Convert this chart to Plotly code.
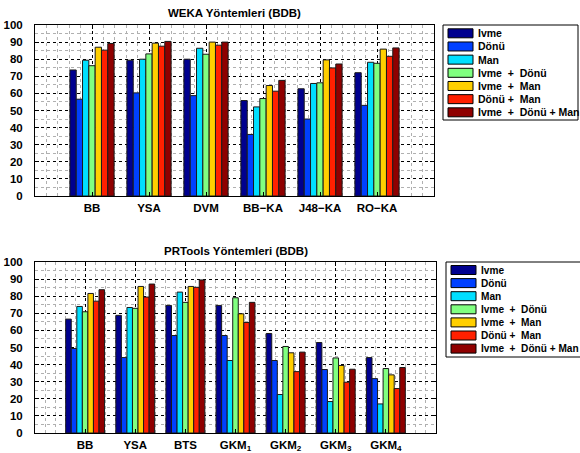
import plotly.graph_objects as go

W, H = 580, 453

series_names = ["Ivme", "Dönü", "Man", "Ivme  +  Dönü", "Ivme  +  Man", "Dönü +  Man", "Ivme  +  Dönü + Man"]
series_colors = ["#00008F", "#0040FF", "#00DFFF", "#80FF80", "#FFCF00", "#FF2000", "#8F0000"]

weka_categories = ["BB", "YSA", "DVM", "BB\u2212KA", "J48\u2212KA", "RO\u2212KA"]
weka_values = [
    [73.7, 79.4, 80.0, 55.8, 62.7, 72.1],   # Ivme
    [56.6, 60.3, 58.7, 36.0, 45.0, 53.0],   # Dönü
    [79.4, 80.0, 86.4, 52.1, 65.8, 78.2],   # Man
    [76.2, 83.1, 82.9, 57.0, 66.2, 77.6],   # Ivme + Dönü
    [87.0, 89.4, 90.0, 64.6, 79.6, 85.9],   # Ivme + Man
    [85.3, 87.6, 88.2, 61.3, 74.9, 81.7],   # Dönü + Man
    [89.2, 90.4, 90.0, 67.6, 77.2, 86.6],   # Ivme + Dönü + Man
]

pr_categories = ["BB", "YSA", "BTS", "GKM<sub>1</sub>", "GKM<sub>2</sub>", "GKM<sub>3</sub>", "GKM<sub>4</sub>"]
pr_values = [
    [66.6, 68.8, 74.6, 74.6, 58.2, 52.9, 44.1],
    [49.4, 44.1, 57.0, 57.0, 42.4, 37.1, 31.8],
    [74.0, 73.4, 82.4, 42.4, 22.5, 18.4, 17.0],
    [70.9, 72.9, 76.4, 79.1, 50.6, 43.9, 37.7],
    [81.6, 85.7, 85.7, 69.7, 46.9, 39.5, 34.0],
    [77.1, 79.5, 85.2, 64.6, 35.9, 29.7, 26.0],
    [83.8, 87.1, 89.5, 76.4, 47.3, 37.3, 38.3],
]

titles = ["WEKA Yöntemleri (BDB)", "PRTools Yöntemleri (BDB)"]

FONT = "Liberation Sans, Arial, sans-serif"


def px_x(x):
    return x / W


def px_y(y):
    return 1 - y / H


fig = go.Figure()

panels = [
    dict(cats=weka_categories, vals=weka_values, xa="x", ya="y",
         box=(35, 434, 25, 196), title_y=13,
         legend=dict(box=(443, 578, 25, 120), first=33.3, step=13.17, px0=448, px1=473,
                     tx=476, fs=10.5)),
    dict(cats=pr_categories, vals=pr_values, xa="x2", ya="y2",
         box=(35, 436, 262, 433), title_y=251,
         legend=dict(box=(446, 582, 262, 357), first=270.0, step=13.1, px0=451, px1=476,
                     tx=479, fs=10.1)),
]

shapes = []
annotations = []

for p_i, p in enumerate(panels):
    xs = list(range(1, len(p["cats"]) + 1))
    for s_i, name in enumerate(series_names):
        fig.add_trace(go.Bar(
            x=xs, y=p["vals"][s_i], name=name,
            marker=dict(color=series_colors[s_i], line=dict(color="#1a1a1a", width=1)),
            xaxis=p["xa"], yaxis=p["ya"], showlegend=False,
        ))
    x0, x1, y0, y1 = p["box"]
    axis_common = dict(
        showline=True, linecolor="black", linewidth=1, mirror="ticks",
        ticks="inside", ticklen=4, tickcolor="black",
        showgrid=True, gridcolor="black", griddash="dot", gridwidth=1,
        zeroline=False, automargin=False,
        tickfont=dict(family=FONT, size=11.5, color="black", weight="bold"),
    )
    xkey = "xaxis" if p_i == 0 else "xaxis2"
    ykey = "yaxis" if p_i == 0 else "yaxis2"
    fig.update_layout(**{
        xkey: dict(axis_common, domain=[px_x(x0), px_x(x1)], range=[0, len(p["cats"]) + 1],
                   tickmode="array", tickvals=xs, ticktext=p["cats"],
                   anchor=p["ya"], ticklabelstandoff=1,
                   minor=dict(tickmode="linear", tick0=0, dtick=0.2, showgrid=True,
                              gridcolor="#b0b0b0", griddash="dot", gridwidth=1, ticks="")),
        ykey: dict(axis_common, domain=[px_y(y1), px_y(y0)], range=[0, 100],
                   tickmode="linear", tick0=0, dtick=10, anchor=p["xa"], ticklabelstandoff=9,
                   minor=dict(tickmode="linear", tick0=0, dtick=5, showgrid=True,
                              gridcolor="#b0b0b0", griddash="dot", gridwidth=1, ticks="")),
    })
    annotations.append(dict(
        text=titles[p_i], xref="paper", yref="paper",
        x=px_x((x0 + x1) / 2), y=px_y(p["title_y"]), xanchor="center", yanchor="middle",
        showarrow=False, font=dict(family=FONT, size=11.5, color="black", weight="bold")))

    # legend (box, colour patches, labels) built from the series lists
    lg = p["legend"]
    bx0, bx1, by0, by1 = lg["box"]
    shapes.append(dict(type="rect", xref="paper", yref="paper",
                       x0=px_x(bx0), x1=px_x(bx1), y0=px_y(by1), y1=px_y(by0),
                       line=dict(color="black", width=1), fillcolor="white", layer="above"))
    for s_i, name in enumerate(series_names):
        cy = lg["first"] + s_i * lg["step"]
        shapes.append(dict(type="rect", xref="paper", yref="paper",
                           x0=px_x(lg["px0"]), x1=px_x(lg["px1"]),
                           y0=px_y(cy + 4.5), y1=px_y(cy - 4.5),
                           line=dict(color="black", width=1), fillcolor=series_colors[s_i],
                           layer="above"))
        annotations.append(dict(
            text=name, xref="paper", yref="paper", x=px_x(lg["tx"]), y=px_y(cy),
            xanchor="left", yanchor="middle", showarrow=False,
            font=dict(family=FONT, size=lg["fs"], color="black", weight="bold")))

fig.update_layout(
    width=W, height=H, margin=dict(l=0, r=0, t=0, b=0, pad=0),
    paper_bgcolor="white", plot_bgcolor="white",
    barmode="group", bargap=0.225, bargroupgap=0,
    shapes=shapes, annotations=annotations,
    font=dict(family=FONT, color="black"),
)

fig.write_html("out.html", config={"displayModeBar": False},
               post_script="document.body.style.margin='0px';")
